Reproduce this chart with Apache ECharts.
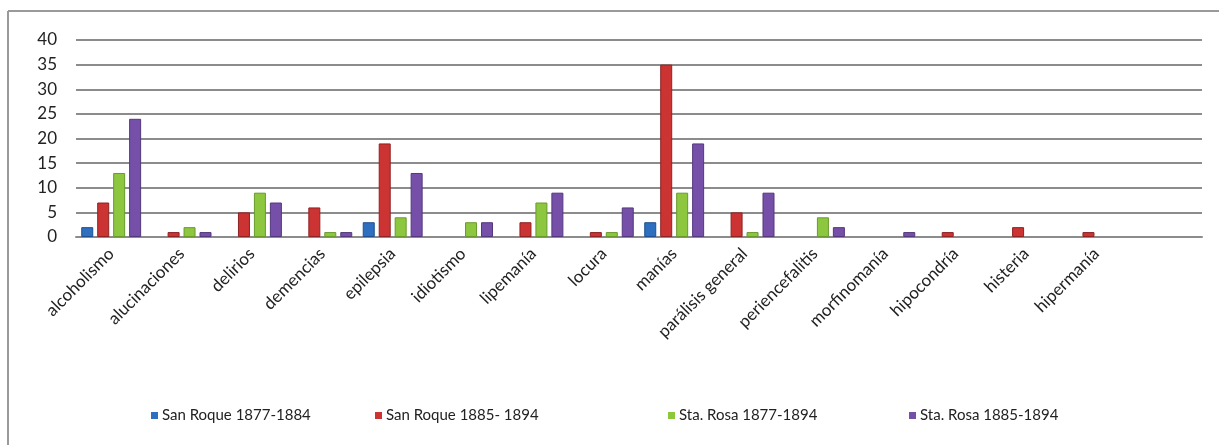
<!DOCTYPE html>
<html>
<head>
<meta charset="utf-8">
<script src="https://cdn.jsdelivr.net/npm/echarts@6/dist/echarts.min.js"></script>
<style>
  html, body { margin: 0; padding: 0; background: #fff; }
  #chart { width: 1219px; height: 445px; }
</style>
</head>
<body>
<div id="chart"></div>
<script>
// Diagnoses recorded at the two asylums, by period
// (the trailing blank category keeps an empty slot at the right end of the axis)
const categories = [
  'alcoholismo', 'alucinaciones', 'delirios', 'demencias', 'epilepsia',
  'idiotismo', 'lipemanía', 'locura', 'manías', 'parálisis general',
  'periencefalitis', 'morfinomanía', 'hipocondría', 'histeria', 'hipermanía', ''
];
const seriesNames = [
  'San Roque 1877-1884', 'San Roque 1885- 1894',
  'Sta. Rosa 1877-1894', 'Sta. Rosa 1885-1894'
];
const sanRoque1877 = [2, 0, 0, 0, 3, 0, 0, 0, 3, 0, 0, 0, 0, 0, 0];
const sanRoque1885 = [7, 1, 5, 6, 19, 0, 3, 1, 35, 5, 0, 0, 1, 2, 1];
const staRosa1877  = [13, 2, 9, 1, 4, 3, 7, 1, 9, 1, 4, 0, 0, 0, 0];
const staRosa1885  = [24, 1, 7, 1, 13, 3, 9, 6, 19, 9, 2, 1, 0, 0, 0];
const yTicks = [0, 5, 10, 15, 20, 25, 30, 35, 40];

const colors = ['#2f6fc0', '#cc3333', '#8dc63f', '#7650a8'];
const edges  = ['#1f4f8f', '#8f2222', '#6a9a2c', '#54377d'];
const values = [sanRoque1877, sanRoque1885, staRosa1877, staRosa1885];
const legendLeft = [146, 370, 663, 904];
const fontFamily = 'Lato, "Liberation Sans", sans-serif';

const chart = echarts.init(document.getElementById('chart'), null, { renderer: 'canvas' });

// zero counts draw no bar at all (no outline either)
const toItems = (arr, i) => arr.map(v => ({
  value: v,
  itemStyle: v === 0 ? { borderWidth: 0, opacity: 0 } : { borderColor: edges[i], borderWidth: 1 }
}));

chart.setOption({
  animation: false,
  backgroundColor: '#ffffff',
  textStyle: { fontFamily },
  graphic: [
    { type: 'line', shape: { x1: 8, y1: 11, x2: 1219, y2: 11 }, style: { stroke: '#9a9a9a', lineWidth: 2 } },
    { type: 'line', shape: { x1: 8, y1: 11, x2: 8, y2: 445 }, style: { stroke: '#9a9a9a', lineWidth: 2 } }
  ],
  grid: { left: 76, right: 17, top: 40, bottom: 208, containLabel: false },
  legend: seriesNames.map((name, i) => ({
    data: [name],
    left: legendLeft[i],
    top: 403,
    itemWidth: 7,
    itemHeight: 7,
    itemGap: 0,
    icon: 'rect',
    textStyle: { fontFamily, fontSize: 15, color: '#222', padding: [0, 0, 0, -1] }
  })),
  xAxis: {
    type: 'category',
    data: categories,
    axisLine: { show: true, lineStyle: { color: '#8c8c8c', width: 2 } },
    axisTick: { show: false },
    axisLabel: {
      rotate: 45,
      interval: 0,
      margin: 14,
      fontFamily,
      fontSize: 17,
      color: '#222'
    }
  },
  yAxis: {
    type: 'value',
    min: 0,
    max: 40,
    interval: 5,
    axisLine: { show: false },
    axisTick: { show: false },
    axisLabel: {
      margin: 19,
      fontFamily,
      fontSize: 17,
      color: '#222',
      formatter: v => (yTicks.includes(v) ? String(v) : '')
    },
    splitLine: { lineStyle: { color: '#8c8c8c', width: 2 } }
  },
  series: seriesNames.map((name, i) => ({
    name,
    type: 'bar',
    data: toItems(values[i], i),
    barWidth: 12,
    barGap: '33%',
    itemStyle: { color: colors[i] }
  }))
});
</script>
</body>
</html>
